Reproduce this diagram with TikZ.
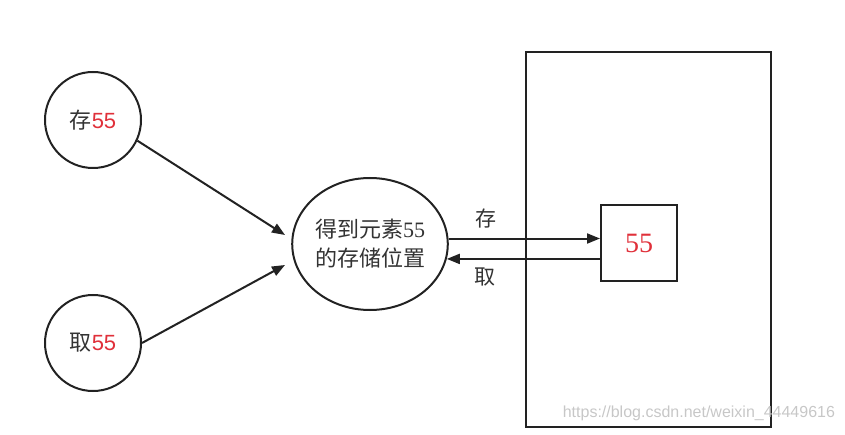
\documentclass[tikz,border=0pt]{standalone}
\usepackage{fontspec}
\setmainfont{Liberation Serif}
\newfontfamily\cjk{Noto Sans CJK SC}
\newfontfamily\numsans{Liberation Sans}
\newfontfamily\numserif{Liberation Serif}
\usetikzlibrary{arrows.meta,shapes.geometric}
\definecolor{numred}{HTML}{E0303A}
\definecolor{txtgray}{HTML}{333333}
\definecolor{linegray}{HTML}{222222}
\tikzset{
  arr/.style={-{Triangle[length=13pt,width=10pt]}},
  wmark/.style={font=\fontsize{16}{20}\selectfont\numsans,text=black!22,anchor=east}
}
\begin{document}
\begin{tikzpicture}[x=1pt,y=-1pt,line width=2pt,draw=linegray,every node/.style={font=\fontsize{22}{29}\selectfont\cjk,text=txtgray,inner sep=0pt}]
\useasboundingbox (0,0) rectangle (845,435);
\node[draw,circle,minimum size=96pt] (cun) at (93,120) {存\textcolor{numred}{\numsans 55}};
\node[draw,circle,minimum size=96pt] (qu) at (93,343) {取\textcolor{numred}{\numsans 55}};
\node[draw,ellipse,minimum width=154pt,minimum height=132pt,align=center] (pos) at (370,244) {得到元素{\numserif 55}\\的存储位置};
\node[draw,minimum width=245pt,minimum height=375pt] (store) at (648.5,239.5) {};
\node[draw,minimum size=76pt,font=\fontsize{28}{30}\selectfont\numserif,text=numred] (cell) at (639,243) {55};
\coordinate (inA) at (285,235);
\coordinate (inB) at (285,265);
\draw[arr] (cun.-25) -- (inA);
\draw[arr] (qu.east) -- (inB);
\draw[arr] (pos.4) -- (pos.4 -| cell.west) node[pos=0.25,above=9pt,font=\fontsize{21}{24}\selectfont\cjk] (lcun) {存};
\draw[arr] (pos.-11 -| cell.west) -- (pos.-11) node[pos=0.75,below=8pt,font=\fontsize{21}{24}\selectfont\cjk] (lqu) {取};
\node[wmark] (url) at (836,413) {https://blog.csdn.net/weixin\_44449616};
\end{tikzpicture}
\end{document}
